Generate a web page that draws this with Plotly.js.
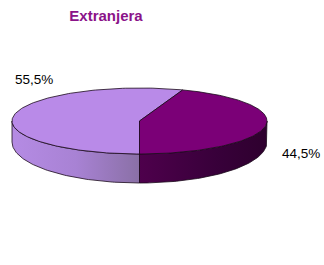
<!DOCTYPE html>
<html><head><meta charset="utf-8">
<script src="https://cdn.plot.ly/plotly-3.0.1.min.js"></script>
<style>html,body{margin:0;padding:0;background:#fff}#c{width:324px;height:265px}</style>
</head><body><div id="c"></div>
<script>
// Data
const categories = ["Otra", "Extranjera"];
const values = [55.5, 44.5];
const labels = ["55,5%", "44,5%"];
const chartTitle = "Extranjera";

// Geometry (pixel-space layout constants)
const cx = 139.5, a = 127.5;
const cyT = 121, bT = 33;
const cyB = 142, bB = 41;
const topColors = ["#b98ae8", "#7b0077"];
const sideScales = [
  [[0, "#b58be4"], [0.5, "#a882d4"], [1, "#8a70a6"]],
  [[0, "#4e004c"], [0.6, "#38003a"], [1, "#2e002e"]]
];

const total = values.reduce((s, v) => s + v, 0);
// dark slice starts at front (-90deg) and goes counterclockwise
const startDeg = -90;
const dark = values[1] / total * 360;
const slices = [
  {from: startDeg + dark, to: 270},     // light
  {from: startDeg, to: startDeg + dark} // dark
];

function arc(from, to, cy, b, n) {
  const xs = [], ys = [];
  for (let i = 0; i <= n; i++) {
    const t = (from + (to - from) * i / n) * Math.PI / 180;
    xs.push(cx + a * Math.cos(t));
    ys.push(cy - b * Math.sin(t));
  }
  return [xs, ys];
}

const traces = [];
// sides (visible front part: 180..360)
slices.forEach((s, i) => {
  const f = Math.max(s.from < 0 ? s.from + 360 : s.from, 180);
  let from = s.from, to = s.to;
  // map to front range
  let lo, hi;
  if (i === 0) { lo = 180; hi = 270; } else { lo = 270; hi = 360; }
  const [tx, ty] = arc(lo, hi, cyT, bT, 80);
  const [bx, by] = arc(hi, lo, cyB, bB, 80);
  traces.push({
    type: "scatter", mode: "lines", x: tx.concat(bx, [tx[0]]), y: ty.concat(by, [ty[0]]),
    fill: "toself", fillcolor: topColors[i],
    fillgradient: {type: "horizontal", colorscale: sideScales[i]},
    line: {color: "#1a0a1a", width: 0.8}, hoverinfo: "skip", showlegend: false
  });
});
// tops
slices.forEach((s, i) => {
  const [xs, ys] = arc(s.from, s.to, cyT, bT, 160);
  traces.push({
    type: "scatter", mode: "lines", x: [cx].concat(xs, [cx]), y: [cyT].concat(ys, [cyT]),
    fill: "toself", fillcolor: topColors[i],
    line: {color: "#1a0a1a", width: 0.8}, hoverinfo: "skip", showlegend: false,
    name: categories[i]
  });
});

const layout = {
  width: 324, height: 265,
  margin: {l: 0, r: 0, t: 0, b: 0},
  paper_bgcolor: "#fff", plot_bgcolor: "#fff",
  xaxis: {range: [0, 324], visible: false, fixedrange: true},
  yaxis: {range: [265, 0], visible: false, fixedrange: true},
  title: {text: "<b>" + chartTitle + "</b>", x: 106 / 324, xanchor: "center", y: 1 - 16 / 265, yanchor: "middle",
          font: {family: "Arial, 'Liberation Sans', sans-serif", size: 15, color: "#8b1389"}},
  annotations: [
    {x: 33.5, y: 79, text: labels[0], showarrow: false, xref: "x", yref: "y",
     font: {family: "Arial, 'Liberation Sans', sans-serif", size: 13.5, color: "#000"}},
    {x: 301, y: 153, text: labels[1], showarrow: false, xref: "x", yref: "y",
     font: {family: "Arial, 'Liberation Sans', sans-serif", size: 13.5, color: "#000"}}
  ]
};
Plotly.newPlot("c", traces, layout, {displayModeBar: false, staticPlot: true});
</script></body></html>
